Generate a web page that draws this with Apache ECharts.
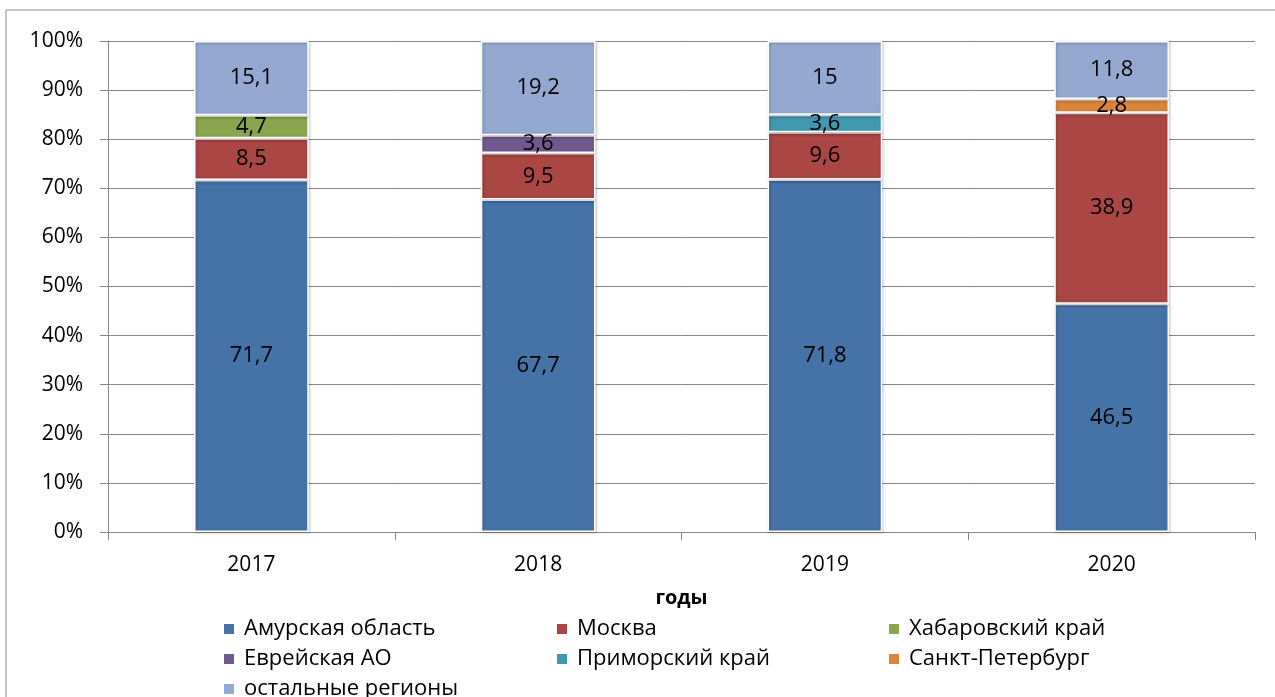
<!DOCTYPE html>
<html><head><meta charset="utf-8">
<script src="https://cdn.jsdelivr.net/npm/echarts@6/dist/echarts.min.js"></script>
<style>html,body{margin:0;padding:0;background:#fff}#c{width:1275px;height:697px}</style>
</head><body><div id="c"></div>
<script>
const years = ['2017', '2018', '2019', '2020'];
const seriesNames = ['Амурская область', 'Москва', 'Хабаровский край', 'Еврейская АО', 'Приморский край', 'Санкт-Петербург', 'остальные регионы'];
const amur = [71.7, 67.7, 71.8, 46.5];
const moscow = [8.5, 9.5, 9.6, 38.9];
const khabarovsk = [4.7, null, null, null];
const evreiskaya = [null, 3.6, null, null];
const primorsky = [null, null, 3.6, null];
const spb = [null, null, null, 2.8];
const others = [15.1, 19.2, 15, 11.8];
const yTicks = [0, 10, 20, 30, 40, 50, 60, 70, 80, 90, 100];
const colors = ['#4572A7', '#AA4643', '#89A54E', '#71588F', '#4198AF', '#DB843D', '#93A9D0'];
const allData = [amur, moscow, khabarovsk, evreiskaya, primorsky, spb, others];

const FONT = '"Open Sans", sans-serif';
const chart = echarts.init(document.getElementById('c'));
const series = seriesNames.map((n, i) => ({
  name: n, type: 'bar', stack: 't', barWidth: '40%',
  data: allData[i],
  itemStyle: { color: colors[i], borderColor: '#fff', borderWidth: 1.5,
    shadowColor: 'rgba(0,0,0,0.25)', shadowBlur: 3, shadowOffsetX: 1, shadowOffsetY: 1 },
  label: { show: true, position: 'inside', color: '#000', fontFamily: FONT, fontSize: 22,
    formatter: p => String(p.value).replace('.', ',') }
}));
const legendTxt = { color: '#000', fontFamily: FONT, fontSize: 22, lineHeight: 21, padding: [0, 0, 0, 4] };
function mkLegend(left, names) {
  return { left: left, top: 618, height: 120, padding: 0, orient: 'vertical', itemWidth: 12, itemHeight: 12, itemGap: 8,
    icon: 'rect', data: names, textStyle: legendTxt, selectedMode: false };
}
chart.setOption({
  animation: false,
  color: colors,
  grid: { left: 108, right: 20, top: 41, bottom: 165 },
  graphic: [{ type: 'rect', shape: { x: 6, y: 10, width: 1400, height: 800 },
    style: { fill: 'none', stroke: '#8a8a8a', lineWidth: 1 }, silent: true, z: -1 }],
  legend: [
    mkLegend(222, [seriesNames[0], seriesNames[3], seriesNames[6]]),
    mkLegend(555, [seriesNames[1], seriesNames[4]]),
    mkLegend(887, [seriesNames[2], seriesNames[5]])
  ],
  xAxis: {
    type: 'category', data: years,
    name: 'годы', nameLocation: 'middle', nameGap: 56,
    nameTextStyle: { color: '#000', fontFamily: FONT, fontSize: 20, fontWeight: 'bold' },
    axisLine: { lineStyle: { color: '#868686' } },
    axisTick: { show: true, length: 8, lineStyle: { color: '#868686' } },
    axisLabel: { color: '#000', fontFamily: FONT, fontSize: 21, margin: 23 }
  },
  yAxis: {
    type: 'value', min: 0, max: 100, interval: 10,
    axisLine: { show: true, lineStyle: { color: '#868686' } },
    axisTick: { show: true, length: 8, lineStyle: { color: '#868686' } },
    splitLine: { lineStyle: { color: '#868686' } },
    axisLabel: { color: '#000', fontFamily: FONT, fontSize: 21, margin: 25,
      formatter: v => yTicks.includes(v) ? v + '%' : '' }
  },
  series: series
});
</script></body></html>
